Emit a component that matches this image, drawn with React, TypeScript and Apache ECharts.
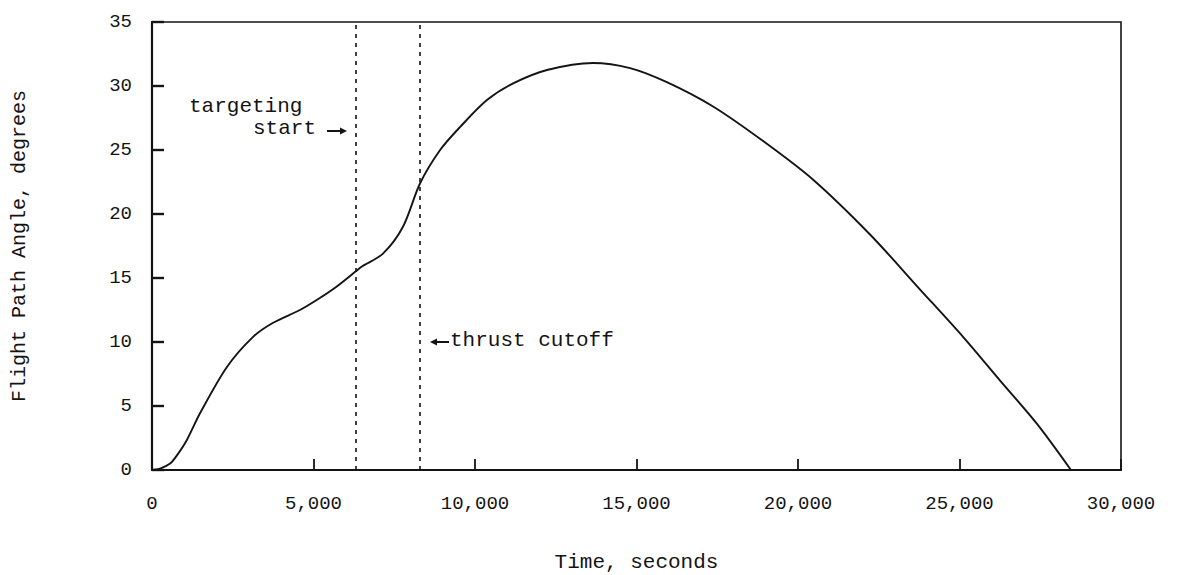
import React, { useEffect, useRef } from "react";
import * as echarts from "echarts";

// Flight path angle history (time in seconds, angle in degrees)
const timeSec = [
  0, 250, 560, 760, 1080, 1490, 2320, 3130, 3750, 4580, 5110, 5700, 6300, 6500,
  7150, 7770, 8300, 8920, 9540, 10370, 11180, 12230, 13650, 14800, 15940,
  17370, 18920, 20460, 22230, 23780, 25110, 26250, 27400, 28450,
];
const angleDeg = [
  0, 0.1, 0.5, 1.1, 2.35, 4.45, 8.05, 10.4, 11.5, 12.5, 13.3, 14.3, 15.5, 15.9,
  16.9, 19.0, 22.4, 25.0, 26.8, 28.9, 30.2, 31.25, 31.8, 31.4, 30.3, 28.4,
  25.7, 22.7, 18.4, 14.1, 10.4, 7.0, 3.6, 0,
];

// Event markers
const targetingStart = 6300;
const thrustCutoff = 8300;

const xTicks = [0, 5000, 10000, 15000, 20000, 25000, 30000];
const yTicks = [0, 5, 10, 15, 20, 25, 30, 35];

const FONT = "'Liberation Mono', 'DejaVu Sans Mono', monospace";
const INK = "#141414";

export default function App() {
  const ref = useRef<HTMLDivElement>(null);

  useEffect(() => {
    if (!ref.current) return;
    const chart = echarts.init(ref.current, null, { renderer: "svg" });

    const fmt = (v: number) => (v === 0 ? "0" : v.toLocaleString("en-US"));

    chart.setOption({
      animation: false,
      backgroundColor: "#ffffff",
      grid: {
        left: 152,
        right: 60,
        top: 22,
        bottom: 105,
        outerBoundsMode: "none",
        containLabel: false,
        show: true,
        borderColor: INK,
        borderWidth: 1.6,
        backgroundColor: "transparent",
      },
      xAxis: {
        type: "value",
        min: 0,
        max: 30000,
        interval: 5000,
        name: "Time, seconds",
        nameLocation: "middle",
        nameGap: 82,
        nameTextStyle: { fontFamily: FONT, fontSize: 21, color: INK },
        axisLine: { show: true, lineStyle: { color: INK, width: 2.2 } },
        axisTick: {
          show: true,
          inside: true,
          length: 11,
          lineStyle: { color: INK, width: 1.8 },
        },
        axisLabel: {
          margin: 24,
          fontFamily: FONT,
          fontSize: 19,
          color: INK,
          formatter: (v: number) => (xTicks.includes(v) ? fmt(v) : ""),
        },
        splitLine: { show: false },
      },
      yAxis: {
        type: "value",
        min: 0,
        max: 35,
        interval: 5,
        name: "Flight Path Angle, degrees",
        nameLocation: "middle",
        nameGap: 123,
        nameRotate: 90,
        nameTextStyle: { fontFamily: FONT, fontSize: 20, color: INK },
        axisLine: { show: true, lineStyle: { color: INK, width: 2.2 } },
        axisTick: {
          show: true,
          inside: true,
          length: 12,
          lineStyle: { color: INK, width: 2.4 },
        },
        axisLabel: {
          margin: 20,
          fontFamily: FONT,
          fontSize: 19,
          color: INK,
          formatter: (v: number) => (yTicks.includes(v) ? String(v) : ""),
        },
        splitLine: { show: false },
      },
      series: [
        {
          type: "line",
          data: timeSec.map((t, i) => [t, angleDeg[i]]),
          smooth: 0.3,
          showSymbol: false,
          lineStyle: { color: INK, width: 1.9 },
          markLine: {
            silent: true,
            symbol: "none",
            label: { show: false },
            lineStyle: { color: INK, width: 1.6, type: [4, 5] },
            data: [{ xAxis: targetingStart }, { xAxis: thrustCutoff }],
          },
        },
      ],
      graphic: [
        {
          type: "text",
          left: 189,
          top: 96,
          style: { text: "targeting", font: `21px ${FONT}`, fill: INK },
        },
        {
          type: "text",
          left: 253,
          top: 118,
          style: { text: "start", font: `21px ${FONT}`, fill: INK },
        },
        {
          type: "line",
          shape: { x1: 327, y1: 131, x2: 341, y2: 131 },
          style: { stroke: INK, lineWidth: 2 },
        },
        {
          type: "polygon",
          shape: { points: [[340, 127.5], [347, 131], [340, 134.5]] },
          style: { fill: INK },
        },
        {
          type: "polygon",
          shape: { points: [[437, 338.5], [430, 342], [437, 345.5]] },
          style: { fill: INK },
        },
        {
          type: "line",
          shape: { x1: 436, y1: 342, x2: 449, y2: 342 },
          style: { stroke: INK, lineWidth: 2 },
        },
        {
          type: "text",
          left: 450,
          top: 330,
          style: { text: "thrust cutoff", font: `21px ${FONT}`, fill: INK },
        },
      ],
    });

    return () => chart.dispose();
  }, []);

  return (
    <div
      ref={ref}
      style={{ position: "fixed", left: 0, top: 0, width: 1181, height: 575 }}
    />
  );
}
